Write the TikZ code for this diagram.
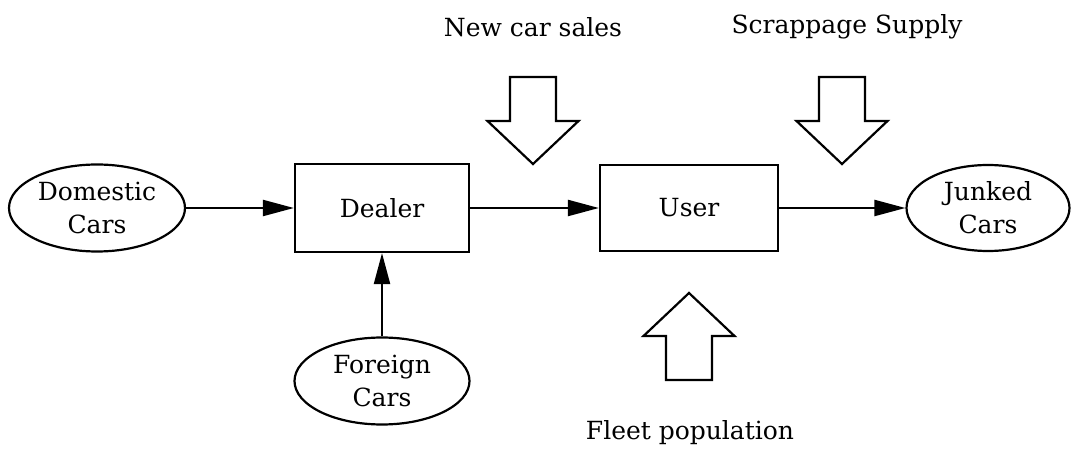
\documentclass[tikz,border=0pt]{standalone}
\usepackage{fontspec}
\setmainfont{DejaVu Serif}
\usetikzlibrary{shapes.geometric,arrows.meta}

\tikzset{
  lbl/.style={font=\fontsize{25}{33}\selectfont, align=center},
  oval/.style={lbl, draw, line width=2.2pt, ellipse, inner sep=0pt},
  stage/.style={lbl, draw, line width=2.2pt, rectangle, inner sep=0pt},
  flow/.style={line width=2.2pt, -{Triangle[length=31pt,width=16pt]}},
  pics/blockarrow/.style={code={
    \draw[line width=2.2pt, line join=miter]
      (0,0) -- (-45.5,-43) -- (-23,-43) -- (-23,-87)
      -- (23,-87) -- (23,-43) -- (45.5,-43) -- cycle;
  }}
}

\begin{document}
\begin{tikzpicture}[x=1pt,y=-1pt]
  \useasboundingbox (0,0) rectangle (1071,454);

  % sources, stages and sink
  \node[oval, minimum width=176pt, minimum height=87pt] (dom) at (97,208) {Domestic\\Cars};
  \node[stage, minimum width=174pt, minimum height=88pt] (dealer) at (382,208) {Dealer};
  \node[stage, minimum width=178pt, minimum height=86pt] (user) at (689,208) {User};
  \node[oval, minimum width=163pt, minimum height=86pt] (junk) at (988,208) {Junked\\Cars};
  \node[oval, minimum width=175pt, minimum height=87pt] (foreign) at (382,381) {Foreign\\Cars};

  % flows between them
  \draw[flow] (dom) -- (dealer);
  \draw[flow] (dealer) -- (user);
  \draw[flow] (user) -- (junk);
  \draw[flow] (foreign) -- (dealer);

  % external influences
  \pic at (533,164) {blockarrow};
  \pic at (842,164) {blockarrow};
  \pic[rotate=180] at (689,293) {blockarrow};

  \node[lbl] (sales) at (533,27) {New car sales};
  \node[lbl] (scrap) at (847,27) {Scrappage Supply};
  \node[lbl] (fleet) at (690,433) {Fleet population};
\end{tikzpicture}
\end{document}
